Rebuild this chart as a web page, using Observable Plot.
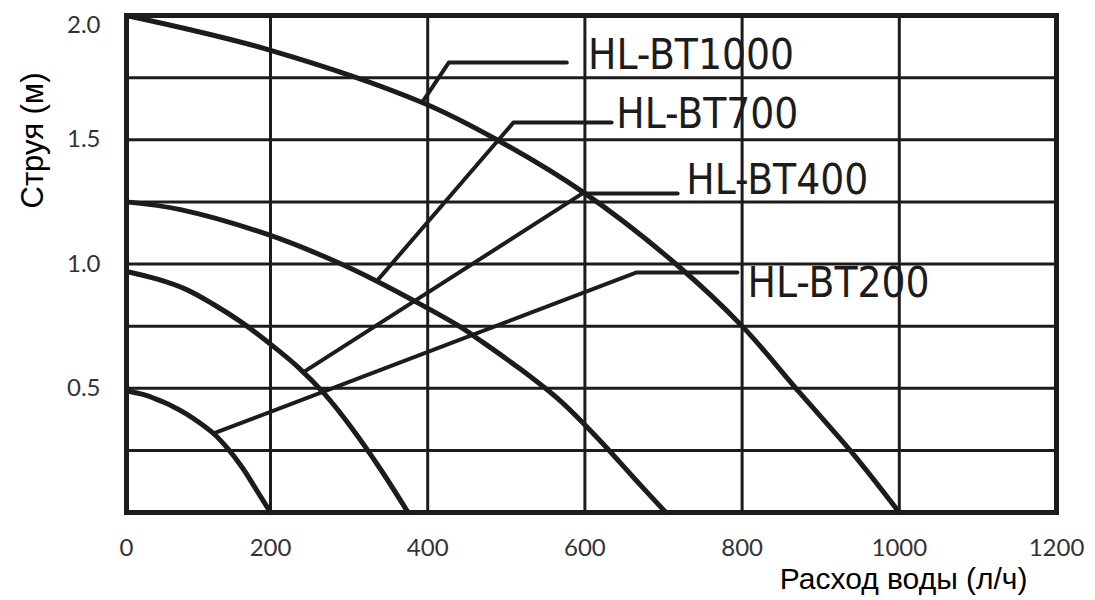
<!DOCTYPE html>
<html>
<head>
<meta charset="utf-8">
<script src="https://cdn.jsdelivr.net/npm/d3@7"></script>
<script src="https://cdn.jsdelivr.net/npm/@observablehq/plot@0.6"></script>
<style>
  html, body { margin: 0; padding: 0; background: #fff; }
  #chart svg { display: block; }
</style>
</head>
<body>
<div id="chart"></div>
<script>
// Curves: flow (л/ч) vs jet height (м)
const bt1000Flow = [0, 200, 393, 488, 600, 718, 800, 873, 943, 1000];
const bt1000Head = [2.0, 1.86, 1.65, 1.5, 1.284, 0.994, 0.75, 0.483, 0.229, 0];
const bt700Flow = [0, 75, 200, 280, 336, 382, 441, 467, 517, 568, 619, 663, 703];
const bt700Head = [1.25, 1.219, 1.115, 1.014, 0.93, 0.853, 0.748, 0.692, 0.579, 0.451, 0.29, 0.137, 0];
const bt400Flow = [0, 43, 82, 120, 159, 198, 234, 269, 304, 340, 375];
const bt400Head = [0.97, 0.939, 0.899, 0.839, 0.767, 0.682, 0.588, 0.476, 0.337, 0.174, 0];
const bt200Flow = [0, 24, 43, 63, 83, 102, 122, 141, 161, 180, 200];
const bt200Head = [0.49, 0.474, 0.454, 0.429, 0.397, 0.36, 0.315, 0.256, 0.18, 0.093, 0];

// Series labels and their leader lines (curve point -> elbow -> end)
const seriesNames = ["HL-BT1000", "HL-BT700", "HL-BT400", "HL-BT200"];
const leaderFlow = [[393, 427, 577], [336, 509, 634], [242, 597, 718], [121, 666, 794]];
const leaderHead = [[1.65, 1.811, 1.811], [0.934, 1.569, 1.569], [0.565, 1.284, 1.284], [0.318, 0.966, 0.966]];
const labelFlow = [604, 640, 729, 807];
const labelHead = [1.84, 1.6, 1.336, 0.92];

// Axes
const xTicks = [0, 200, 400, 600, 800, 1000, 1200];
const xGrid = [200, 400, 600, 800, 1000];
const yTicksLow = [0.5, 1.0, 1.5];
const yTickTop = [2.0];
const yGrid = [0.25, 0.5, 0.75, 1.0, 1.25, 1.5, 1.75];
const xTitle = "Расход воды (л/ч)";
const yTitle = "Струя (м)";

const curves = [
  [bt1000Flow, bt1000Head],
  [bt700Flow, bt700Head],
  [bt400Flow, bt400Head],
  [bt200Flow, bt200Head]
].map(([f, h], i) => f.map((x, j) => ({series: seriesNames[i], x, y: h[j]})));

const leaders = leaderFlow.map((f, i) => f.map((x, j) => ({series: seriesNames[i], x, y: leaderHead[i][j]})));
const labels = seriesNames.map((name, i) => ({name, x: labelFlow[i], y: labelHead[i]}));

const ink = "#1c1c1c";
const tickFont = "Lato, 'Open Sans', sans-serif";
const titleFont = "'Liberation Sans', Arial, sans-serif";

const chart = Plot.plot({
  width: 1095,
  height: 600,
  marginLeft: 126,
  marginRight: 39,
  marginTop: 15,
  marginBottom: 88,
  x: {type: "linear", domain: [0, 200, 1200], range: [126, 270, 1056]},
  y: {domain: [0, 2]},
  style: {background: "#fff"},
  marks: [
    Plot.ruleX(xGrid, {stroke: ink, strokeWidth: 3}),
    Plot.ruleY(yGrid, {stroke: ink, strokeWidth: 3}),
    ...curves.map(c => Plot.line(c, {x: "x", y: "y", curve: "catmull-rom", stroke: ink, strokeWidth: 5, strokeLinecap: "round"})),
    ...leaders.map(l => Plot.line(l, {x: "x", y: "y", stroke: ink, strokeWidth: 4})),
    Plot.text(labels, {
      x: "x", y: "y", text: "name", textAnchor: "start",
      fontSize: 42, fill: ink,
      fontFamily: "'Liberation Sans Narrow', 'DejaVu Sans Condensed', sans-serif"
    }),
    Plot.frame({stroke: ink, strokeWidth: 5}),
    Plot.axisX(xTicks, {tickSize: 0, tickPadding: 26, fontSize: 24, fill: "#333", fontFamily: tickFont, label: null, tickFormat: d => String(d)}),
    Plot.axisY(yTicksLow, {tickSize: 0, tickPadding: 26, fontSize: 24, fill: "#333", fontFamily: tickFont, label: null, tickFormat: d => d.toFixed(1)}),
    Plot.axisY(yTickTop, {tickSize: 0, tickPadding: 26, fontSize: 24, fill: "#333", fontFamily: tickFont, label: null, dy: 10, tickFormat: d => d.toFixed(1)}),
    Plot.text([xTitle], {frameAnchor: "bottom-right", text: d => d, textAnchor: "end", dx: -29, dy: 76, fontSize: 30, fill: "#000", fontFamily: titleFont}),
    Plot.text([yTitle], {frameAnchor: "top-left", text: d => d, textAnchor: "middle", rotate: -90, dx: -106, dy: 125, fontSize: 31, fill: "#000", fontFamily: titleFont})
  ]
});
document.getElementById("chart").appendChild(chart);
</script>
</body>
</html>
